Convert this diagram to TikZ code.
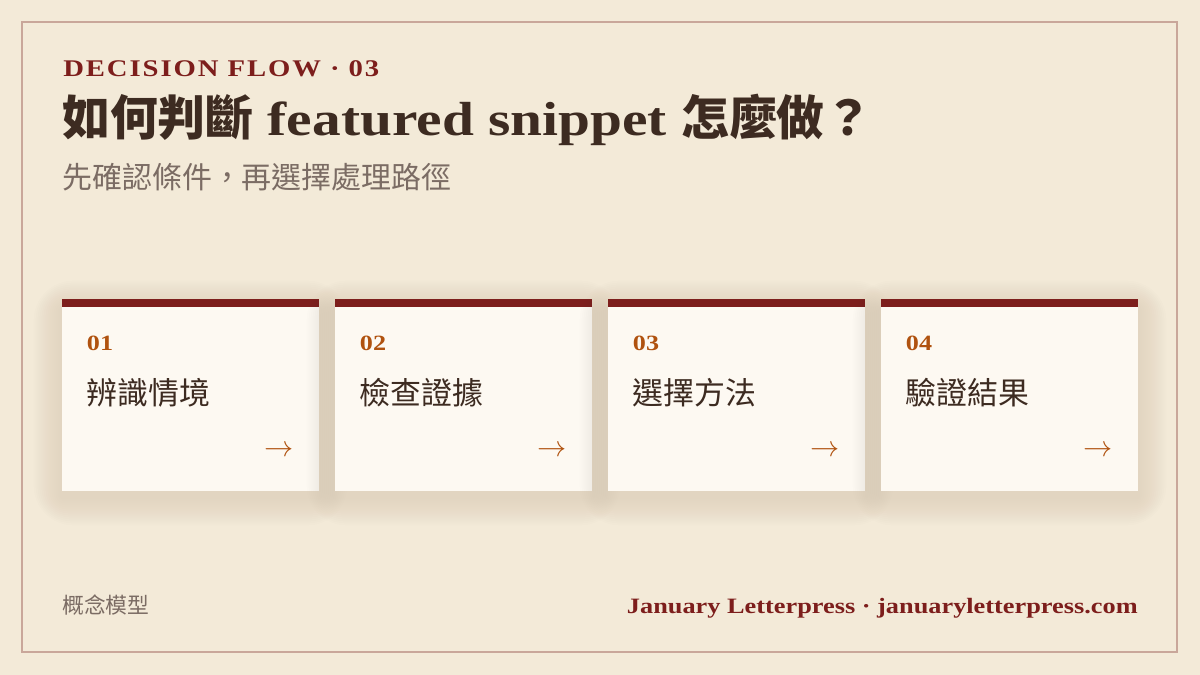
\documentclass[tikz,border=0pt]{standalone}
\usepackage{fontspec}
\setmainfont{Liberation Serif}[FakeStretch=1.2]
\newfontfamily\cjk{Noto Sans CJK TC}
\newfontfamily\spacedfont{Liberation Serif}[FakeStretch=1.2, LetterSpace=8]
\usetikzlibrary{calc}

\definecolor{paper}{HTML}{F3EAD8}
\definecolor{frameline}{HTML}{C9A79A}
\definecolor{wine}{HTML}{7D1E1C}
\definecolor{ink}{HTML}{3D2B21}
\definecolor{mute}{HTML}{7B6C64}
\definecolor{rust}{HTML}{B0520F}
\definecolor{cardfill}{HTML}{FDF9F2}
\definecolor{shadowtone}{HTML}{6E5E48}

\tikzset{
  cardslot/.style={minimum width=6.425cm, minimum height=4.8cm, inner sep=0pt},
  kicker/.style={text=wine, font=\spacedfont\bfseries\fontsize{17}{20}\selectfont, anchor=base west, inner sep=0pt},
  headline/.style={text=ink, font=\bfseries\fontsize{34}{40}\selectfont, anchor=base west, inner sep=0pt},
  subline/.style={text=mute, font=\cjk\fontsize{21.3}{26}\selectfont, anchor=base west, inner sep=0pt},
  stepnum/.style={text=rust, font=\bfseries\fontsize{15.5}{18}\selectfont, anchor=base west, inner sep=0pt},
  steptitle/.style={text=ink, font=\cjk\fontsize{22}{26}\selectfont, anchor=base west, inner sep=0pt},
  steparrow/.style={text=rust, font=\fontsize{20}{24}\selectfont, inner sep=0pt},
  footnote/.style={text=mute, font=\cjk\fontsize{15.5}{18}\selectfont, anchor=base west, inner sep=0pt},
  credit/.style={text=wine, font=\bfseries\fontsize{15.6}{18}\selectfont, anchor=base east, inner sep=0pt},
}

% soft shadow, card face and top bar for a card slot
\def\stepcard(#1){%
  \foreach \s in {2,4,...,28}
    \fill[shadowtone, opacity=0.008, rounded corners=\s pt] ($(#1.south west)+(-\s,\s+6)$) rectangle ($(#1.north east)+(\s,-\s+10)$);
  \fill[cardfill] (#1.south west) rectangle (#1.north east);
  \fill[wine] (#1.north west) rectangle ($(#1.north east)+(0,8)$);
}

\begin{document}
\begin{tikzpicture}[x=0.025cm, y=-0.025cm]
  %%%%% PAGE %%%%%
  \fill[paper] (0,0) rectangle (1200,675);
  \useasboundingbox (0,0) rectangle (1200,675);
  \draw[frameline, line width=0.04cm] (22,22) rectangle (1177,652);

  %%%%% HEADER %%%%%
  \node[kicker] (kicker) at (63,77) {DECISION FLOW · 03};
  \node[headline] (title) at (62,136) {{\cjk 如何判斷} featured snippet {\cjk 怎麼做？}};
  \node[subline] (sub) at (62,189) {先確認條件，再選擇處理路徑};

  %%%%% CARDS %%%%%
  \path node[cardslot] (c1) at (190.5,395) {}
        node[cardslot] (c2) at (463.5,395) {}
        node[cardslot] (c3) at (736.5,395) {}
        node[cardslot] (c4) at (1009.5,395) {};

  \stepcard(c1)
  \stepcard(c2)
  \stepcard(c3)
  \stepcard(c4)

  \node[stepnum] (n1) at ($(c1.north west)+(25,52)$) {01};
  \node[steptitle] (t1) at ($(c1.north west)+(25,106)$) {辨識情境};
  \node[steparrow] (a1) at ($(c1.north east)+(-40,152)$) {$\rightarrow$};

  \node[stepnum] (n2) at ($(c2.north west)+(25,52)$) {02};
  \node[steptitle] (t2) at ($(c2.north west)+(25,106)$) {檢查證據};
  \node[steparrow] (a2) at ($(c2.north east)+(-40,152)$) {$\rightarrow$};

  \node[stepnum] (n3) at ($(c3.north west)+(25,52)$) {03};
  \node[steptitle] (t3) at ($(c3.north west)+(25,106)$) {選擇方法};
  \node[steparrow] (a3) at ($(c3.north east)+(-40,152)$) {$\rightarrow$};

  \node[stepnum] (n4) at ($(c4.north west)+(25,52)$) {04};
  \node[steptitle] (t4) at ($(c4.north west)+(25,106)$) {驗證結果};
  \node[steparrow] (a4) at ($(c4.north east)+(-40,152)$) {$\rightarrow$};

  %%%%% FOOTER %%%%%
  \node[footnote] (tag) at (62,613) {概念模型};
  \node[credit] (site) at (1138,613) {January Letterpress · januaryletterpress.com};
\end{tikzpicture}
\end{document}
